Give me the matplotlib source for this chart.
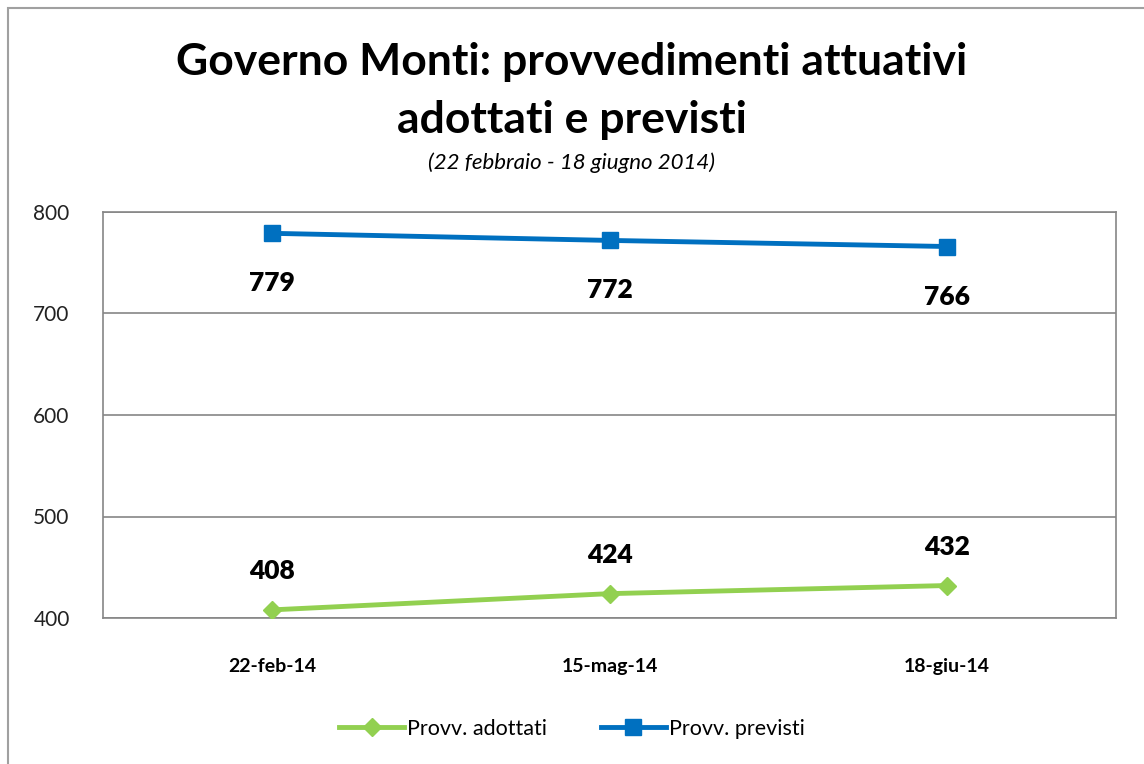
import matplotlib
matplotlib.use("Agg")
import matplotlib.pyplot as plt
from matplotlib.patches import Rectangle

categories = ["22-feb-14", "15-mag-14", "18-giu-14"]
adottati = [408, 424, 432]
previsti = [779, 772, 766]
yticks = [400, 500, 600, 700, 800]

W, H = 1144, 764
fig = plt.figure(figsize=(W / 100, H / 100), dpi=100)
fig.patch.set_facecolor("white")

# outer chart border (cut at right/bottom like reference)
fig.patches.append(Rectangle((8 / W, -0.1), 1.2, (H - 8) / H + 0.1, transform=fig.transFigure,
                             fill=False, edgecolor="#a0a0a0", linewidth=1.5))

ax = fig.add_axes([103 / W, 1 - 618 / H, (1116 - 103) / W, (618 - 212) / H])
x = list(range(len(categories)))
green = "#92d050"
blue = "#0070c0"
ax.plot(x, adottati, color=green, linewidth=3.5, marker="D", markersize=9, label="Provv. adottati", zorder=3)
ax.plot(x, previsti, color=blue, linewidth=3.5, marker="s", markersize=11, label="Provv. previsti", zorder=3)

font = "Lato"
for xi, v in zip(x, adottati):
    ax.annotate(str(v), (xi, v), xytext=(0, 28), textcoords="offset points", ha="center", va="center",
                fontsize=19, fontweight="heavy", family=font)
for xi, v in zip(x, previsti):
    ax.annotate(str(v), (xi, v), xytext=(0, -36), textcoords="offset points", ha="center", va="center",
                fontsize=19, fontweight="heavy", family=font)

ax.set_xlim(-0.5, 2.5)
ax.set_ylim(400, 800)
ax.set_yticks(yticks)
ax.set_yticklabels([str(t) for t in yticks], family=font, fontsize=15, color="#222222")
ax.set_xticks(x)
ax.set_xticklabels(categories, family=font, fontsize=14, fontweight="bold")
ax.tick_params(axis="both", length=0)
ax.tick_params(axis="y", pad=24)
ax.tick_params(axis="x", pad=29)
ax.grid(axis="y", color="#868686", linewidth=1.2)
ax.set_axisbelow(True)
for s in ax.spines.values():
    s.set_color("#868686")
    s.set_linewidth(1.2)

fig.text(0.5, 1 - 62 / H, "Governo Monti: provvedimenti attuativi", ha="center", va="center",
         fontsize=32, fontweight="bold", family=font)
fig.text(0.5, 1 - 120 / H, "adottati e previsti", ha="center", va="center",
         fontsize=32, fontweight="bold", family=font)
fig.text(0.5, 1 - 163 / H, "(22 febbraio - 18 giugno 2014)", ha="center", va="center",
         fontsize=16, style="italic", family=font)

leg = fig.legend(loc="center", bbox_to_anchor=(0.5, 1 - 729 / H), ncol=2, frameon=False,
                 prop={"family": font, "size": 15.5}, handlelength=3.0, columnspacing=2.5, handletextpad=0.15)

fig.savefig("out.png", dpi=100)
